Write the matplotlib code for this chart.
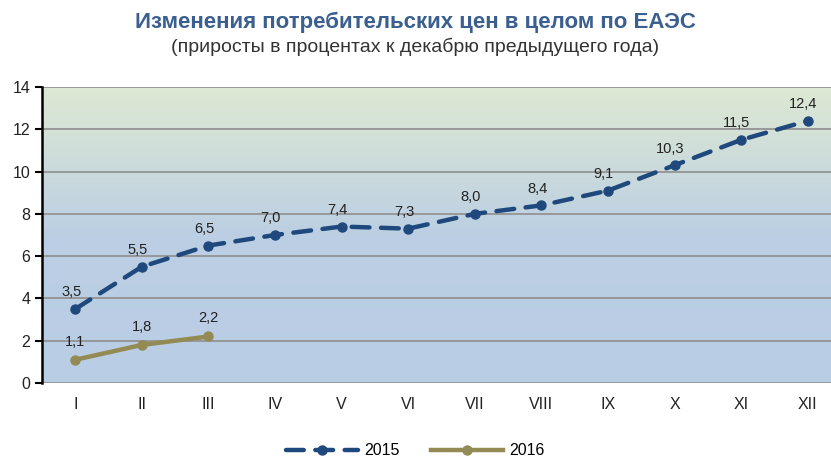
import matplotlib.pyplot as plt
import numpy as np
from matplotlib.colors import LinearSegmentedColormap

months = ['I', 'II', 'III', 'IV', 'V', 'VI', 'VII', 'VIII', 'IX', 'X', 'XI', 'XII']
y2015 = [3.5, 5.5, 6.5, 7.0, 7.4, 7.3, 8.0, 8.4, 9.1, 10.3, 11.5, 12.4]
y2016 = [1.1, 1.8, 2.2]

c2015 = '#1f497d'
c2016 = '#948a54'

plt.rcParams['font.family'] = ['Liberation Sans', 'DejaVu Sans']


def fmt(v):
    return f'{v:.1f}'.replace('.', ',')


def plot():
    fig = plt.figure(figsize=(8.31, 4.62), dpi=100)
    ax = fig.add_axes([42 / 831, 1 - 383 / 462, 799 / 831, 296 / 462])

    # background gradient: green at top, blue at bottom
    cmap = LinearSegmentedColormap.from_list('bg', ['#b9cde5', '#bccfe3', '#dde9d3'])
    grad = np.linspace(0, 1, 256).reshape(-1, 1)
    ax.imshow(grad, cmap=cmap, aspect='auto', origin='lower',
              extent=(-0.5, 11.5, 0, 14), zorder=0)

    x = np.arange(len(months))
    ax.plot(x, y2015, color=c2015, lw=3.2, ls=(0, (4, 2.6)), marker='o',
            markersize=6.5, label='2015', zorder=3, dash_capstyle='round')
    ax.plot(x[:len(y2016)], y2016, color=c2016, lw=3.2, marker='o',
            markersize=6.5, label='2016', zorder=3)

    for i, v in enumerate(y2015):
        ax.annotate(fmt(v), (i, v), xytext=(-3, 7), textcoords='offset points',
                    ha='center', va='bottom', fontsize=10.5, color='#222222')
    for i, v in enumerate(y2016):
        ax.annotate(fmt(v), (i, v), xytext=(0, 8), textcoords='offset points',
                    ha='center', va='bottom', fontsize=10.5, color='#222222')

    ax.set_xlim(-0.5, 11.5)
    ax.set_ylim(0, 14)
    ax.set_yticks(range(0, 15, 2))
    ax.set_xticks(x)
    ax.set_xticklabels(months)
    ax.yaxis.grid(True, color='#939393', lw=1.3, zorder=1)
    ax.set_axisbelow(True)
    for s in ['top', 'right', 'bottom']:
        ax.spines[s].set_visible(False)
    ax.spines['left'].set_linewidth(1.8)
    ax.tick_params(axis='y', length=5, width=1.5, labelsize=11.5, colors='black',
                   labelcolor='#222222')
    ax.tick_params(axis='x', length=0, labelsize=11.5, pad=10, labelcolor='#222222')

    fig.text(0.5, 0.952, 'Изменения потребительских цен в целом по ЕАЭС',
             ha='center', va='center', fontsize=16, fontweight='bold', color='#3b5f8f')
    fig.text(0.5, 0.898, '(приросты в процентах к декабрю предыдущего года)',
             ha='center', va='center', fontsize=14, color='#333333')

    fig.legend(loc='center', bbox_to_anchor=(0.5, 0.024), ncol=2, frameon=False,
               fontsize=11.5, handlelength=4.5, columnspacing=2.0, handletextpad=0.4)

    fig.savefig('out.png', dpi=100)


if __name__ == '__main__':
    plot()
